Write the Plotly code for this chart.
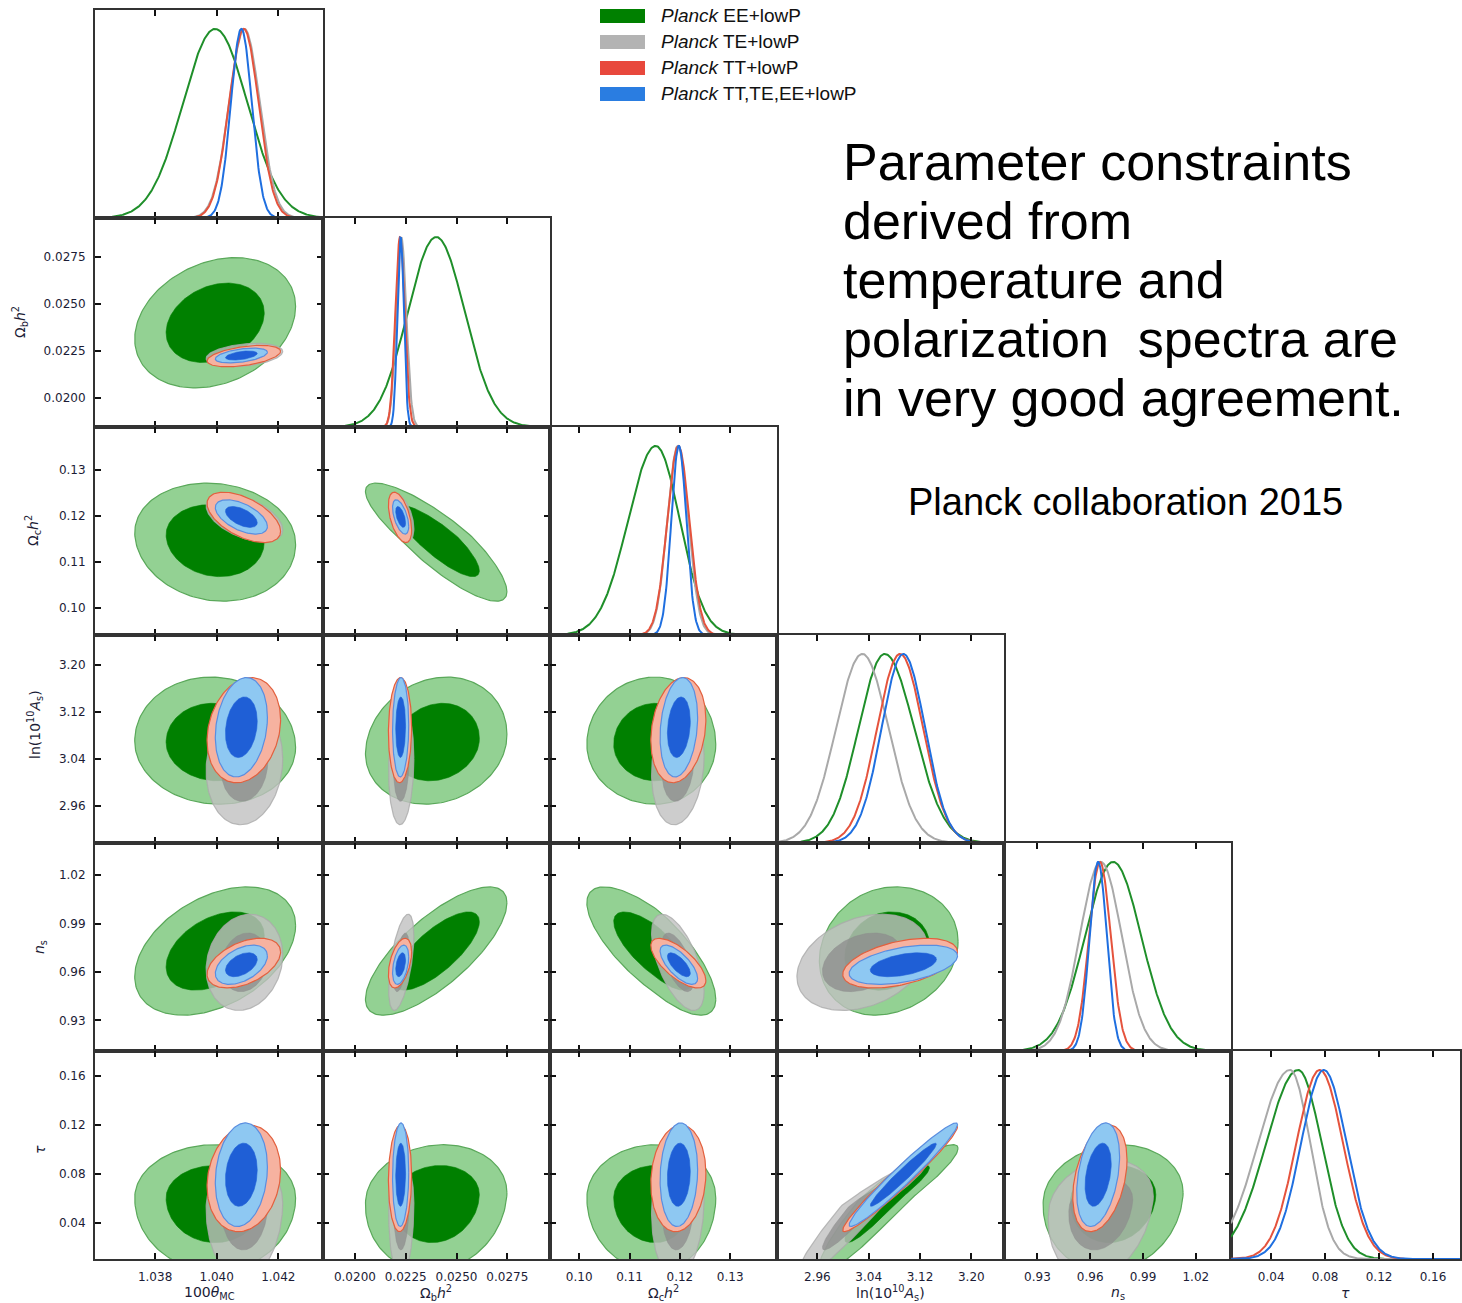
import numpy as np
import plotly.graph_objects as go

W, H = 1462, 1303

# ---------------- parameters / axes ----------------
param_titles = ["100<i>θ</i><sub>MC</sub>", "Ω<sub>b</sub><i>h</i><sup>2</sup>", "Ω<sub>c</sub><i>h</i><sup>2</sup>",
                "ln(10<sup>10</sup><i>A</i><sub>s</sub>)", "<i>n</i><sub>s</sub>", "<i>τ</i>"]
param_ranges = [[1.03605, 1.04345], [0.01843, 0.02960], [0.0942, 0.1393],
                [2.897, 3.251], [0.911, 1.040], [0.0102, 0.1800]]
tick_vals = [[1.038, 1.040, 1.042], [0.0200, 0.0225, 0.0250, 0.0275], [0.10, 0.11, 0.12, 0.13],
             [2.96, 3.04, 3.12, 3.20], [0.93, 0.96, 0.99, 1.02], [0.04, 0.08, 0.12, 0.16]]
tick_text = [["1.038", "1.040", "1.042"], ["0.0200", "0.0225", "0.0250", "0.0275"],
             ["0.10", "0.11", "0.12", "0.13"], ["2.96", "3.04", "3.12", "3.20"],
             ["0.93", "0.96", "0.99", "1.02"], ["0.04", "0.08", "0.12", "0.16"]]

# ---------------- datasets (mean, sigma low side, sigma high side) ----------------
dataset_labels = ["<i>Planck</i> EE+lowP", "<i>Planck</i> TE+lowP", "<i>Planck</i> TT+lowP",
                  "<i>Planck</i> TT,TE,EE+lowP"]

ee_mean = [1.03995, 0.0240, 0.1152, 3.065, 0.973, 0.060]
ee_sig_lo = [0.00105, 0.0014, 0.0055, 0.041, 0.016, 0.024]
ee_sig_hi = [0.00105, 0.0014, 0.0048, 0.046, 0.016, 0.0175]

te_mean = [1.04090, 0.02228, 0.1196, 3.030, 0.966, 0.054]
te_sig_lo = [0.00050, 0.00025, 0.0021, 0.041, 0.012, 0.024]
te_sig_hi = [0.00050, 0.00025, 0.0021, 0.041, 0.012, 0.015]

tt_mean = [1.04088, 0.02222, 0.1197, 3.089, 0.9655, 0.076]
tt_sig_lo = [0.00048, 0.00023, 0.0022, 0.036, 0.0062, 0.0175]
tt_sig_hi = [0.00048, 0.00023, 0.0022, 0.036, 0.0062, 0.0175]

all_mean = [1.04080, 0.02225, 0.1198, 3.094, 0.9645, 0.079]
all_sig_lo = [0.00034, 0.00016, 0.0015, 0.034, 0.0049, 0.017]
all_sig_hi = [0.00034, 0.00016, 0.0015, 0.034, 0.0049, 0.017]

# correlations, lower triangle: row i holds rho(i, j) for j < i
ee_rho = [[], [0.25], [-0.10, -0.85], [-0.05, 0.15, 0.00], [0.40, 0.75, -0.75, 0.15],
          [0.00, 0.10, 0.00, 0.93, 0.10]]
te_rho = [[], [0.30], [-0.50, -0.45], [0.10, 0.10, 0.15], [0.15, 0.55, -0.60, 0.30],
          [0.05, 0.05, 0.10, 0.95, 0.20]]
tt_rho = [[], [0.45], [-0.55, -0.50], [0.20, 0.05, 0.20], [0.45, 0.45, -0.70, 0.45],
          [0.15, 0.05, 0.10, 0.97, 0.35]]
all_rho = [[], [0.45], [-0.55, -0.55], [0.20, 0.05, 0.20], [0.45, 0.40, -0.70, 0.45],
           [0.15, 0.05, 0.10, 0.97, 0.35]]

datasets = [
    dict(mean=ee_mean, lo=ee_sig_lo, hi=ee_sig_hi, rho=ee_rho,
         outer="#93d193", inner="#008000", edge="#5aa85a", line="#1f8f2a", legend="#008000"),
    dict(mean=te_mean, lo=te_sig_lo, hi=te_sig_hi, rho=te_rho,
         outer="rgba(192,192,192,0.80)", inner="rgba(140,140,140,0.75)", edge="rgba(170,170,170,0.8)",
         line="#a9a9a9", legend="#b3b3b3"),
    dict(mean=tt_mean, lo=tt_sig_lo, hi=tt_sig_hi, rho=tt_rho,
         outer="#f6b2a0", inner="#ef8a72", edge="#e2603e", line="#e5533d", legend="#e8483c"),
    dict(mean=all_mean, lo=all_sig_lo, hi=all_sig_hi, rho=all_rho,
         outer="#8ec8f2", inner="#1f5fd6", edge="#5a8ee0", line="#1f6fe0", legend="#2a7de1"),
]

R68, R95 = np.sqrt(2.30), np.sqrt(6.18)

xb = [95, 323, 550, 777, 1004, 1231, 1460]
yb = [10, 218, 427, 635, 843, 1051, 1259]
NP = 6

tickfont = dict(family="DejaVu Sans", size=12, color="#1c1c36")
fig = go.Figure()
layout = {}
k = 0
for i in range(NP):
    for j in range(i + 1):
        k += 1
        sx = "" if k == 1 else str(k)
        xref, yref = "x" + sx, "y" + sx
        xa = dict(domain=[xb[j] / W, xb[j + 1] / W], anchor=yref, range=param_ranges[j],
                  tickvals=tick_vals[j], ticktext=tick_text[j], showticklabels=(i == NP - 1),
                  ticks="inside", ticklen=6, tickwidth=1.5, tickcolor="#111",
                  mirror="allticks", showline=True, linecolor="#333", linewidth=2,
                  showgrid=False, zeroline=False, tickfont=tickfont, ticklabelstandoff=6)
        if i == j:
            ya = dict(domain=[1 - yb[i + 1] / H, 1 - yb[i] / H], anchor=xref, range=[0, 1.1],
                      showticklabels=False, ticks="", mirror=True, showline=True,
                      linecolor="#333", linewidth=2, showgrid=False, zeroline=False)
        else:
            ya = dict(domain=[1 - yb[i + 1] / H, 1 - yb[i] / H], anchor=xref, range=param_ranges[i],
                      tickvals=tick_vals[i], ticktext=tick_text[i], showticklabels=(j == 0),
                      ticks="inside", ticklen=6, tickwidth=1.5, tickcolor="#111",
                      mirror="allticks", showline=True, linecolor="#333", linewidth=2,
                      showgrid=False, zeroline=False, tickfont=tickfont, ticklabelstandoff=5)
        layout["xaxis" + sx] = xa
        layout["yaxis" + sx] = ya

        if i == j:
            xs = np.linspace(param_ranges[j][0], param_ranges[j][1], 400)
            for d in datasets:
                mu = d["mean"][j]
                z = np.where(xs < mu, (xs - mu) / d["lo"][j], (xs - mu) / d["hi"][j])
                fig.add_trace(go.Scatter(x=xs, y=np.exp(-0.5 * z ** 2), mode="lines",
                                         line=dict(color=d["line"], width=2),
                                         xaxis=xref, yaxis=yref, showlegend=False, hoverinfo="skip"))
        else:
            t = np.linspace(0, 2 * np.pi, 181)
            for d in datasets:
                rho = d["rho"][i][j]
                for r, col, lw in ((R95, d["outer"], 1.2), (R68, d["inner"], 0.6)):
                    u = r * np.cos(t)
                    v = r * (rho * np.cos(t) + np.sqrt(1 - rho ** 2) * np.sin(t))
                    x = d["mean"][j] + np.where(u < 0, d["lo"][j], d["hi"][j]) * u
                    y = d["mean"][i] + np.where(v < 0, d["lo"][i], d["hi"][i]) * v
                    fig.add_trace(go.Scatter(x=x, y=y, mode="lines", fill="toself", fillcolor=col,
                                             line=dict(color=d["edge"] if r == R95 else col, width=lw),
                                             xaxis=xref, yaxis=yref, showlegend=False,
                                             hoverinfo="skip"))

annotations = []
shapes = []
# bottom axis titles
for j in range(NP):
    annotations.append(dict(x=(xb[j] + xb[j + 1]) / 2 / W, y=1 - 1293 / H, xref="paper", yref="paper",
                            text=param_titles[j], showarrow=False, xanchor="center", yanchor="middle",
                            font=dict(family="DejaVu Sans", size=14, color="#1c1c36")))
# left axis titles
ytitle_x = [None, 20, 33, 35, 40, 40]
ytitle_y = [None, 322, 531, 725, 947, 1150]
for i in range(1, NP):
    annotations.append(dict(x=ytitle_x[i] / W, y=1 - ytitle_y[i] / H, xref="paper", yref="paper",
                            text=param_titles[i], showarrow=False, textangle=-90,
                            xanchor="center", yanchor="middle",
                            font=dict(family="DejaVu Sans", size=14, color="#1c1c36")))
# legend
leg_y = [16, 42, 68, 94]
for d, lab, yy in zip(datasets, dataset_labels, leg_y):
    shapes.append(dict(type="rect", xref="paper", yref="paper", x0=600 / W, x1=645 / W,
                       y0=1 - (yy + 7) / H, y1=1 - (yy - 7) / H, fillcolor=d["legend"], line=dict(width=0)))
    annotations.append(dict(x=659 / W, y=1 - yy / H, xref="paper", yref="paper", text=lab,
                            showarrow=False, xanchor="left", yanchor="middle",
                            font=dict(family="Liberation Sans", size=19, color="#111")))
# main text
main_lines = ["Parameter constraints", "derived from", "temperature and",
              "polarization\u00a0 spectra are", "in very good agreement."]
for n_, line in enumerate(main_lines):
    annotations.append(dict(x=841 / W, y=1 - (162 + 59 * n_) / H, xref="paper", yref="paper", text=line,
                            showarrow=False, xanchor="left", yanchor="middle",
                            font=dict(family="Liberation Sans", size=52, color="#000")))
annotations.append(dict(x=906 / W, y=1 - 502 / H, xref="paper", yref="paper",
                        text="Planck collaboration 2015", showarrow=False, xanchor="left",
                        yanchor="middle", font=dict(family="Liberation Sans", size=38, color="#000")))

fig.update_layout(width=W, height=H, autosize=False, margin=dict(l=0, r=0, t=0, b=0),
                  paper_bgcolor="white", plot_bgcolor="white", showlegend=False,
                  annotations=annotations, shapes=shapes, **layout)
fig.write_html("out.html")
